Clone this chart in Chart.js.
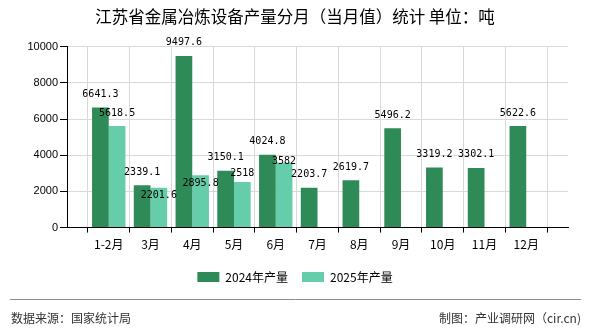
<!DOCTYPE html>
<html>
<head>
<meta charset="utf-8">
<script src="https://cdn.jsdelivr.net/npm/chart.js@4.4.1/dist/chart.umd.min.js"></script>
<style>
  html, body { margin: 0; padding: 0; background: #fff; }
  #wrap { position: relative; width: 590px; height: 330px; }
</style>
</head>
<body>
<div id="wrap"><canvas id="chart" width="590" height="330"></canvas></div>
<script>
// values
const months = ['1-2月', '3月', '4月', '5月', '6月', '7月', '8月', '9月', '10月', '11月', '12月'];
const output2024 = [6641.3, 2339.1, 9497.6, 3150.1, 4024.8, 2203.7, 2619.7, 5496.2, 3319.2, 3302.1, 5622.6];
const output2025 = [5618.5, 2201.6, 2895.8, 2518, 3582, null, null, null, null, null, null];
const yTicks = [0, 2000, 4000, 6000, 8000, 10000];

// label nudges (px) for 2025 labels, mimicking the overlap shifting in the source
const lightLabelDy = [0, 21, 21, 4, 12, 0, 0, 0, 0, 0, 0];

// an empty slot on both ends, so the category axis has a full gap at each side
const labels = [''].concat(months, ['']);
const pad = arr => [null].concat(arr, [null]);

const CJK = '"Noto Sans CJK SC", "Noto Sans", sans-serif';

const valueLabels = {
    id: 'valueLabels',
    afterDatasetsDraw(chart) {
        const ctx = chart.ctx;
        ctx.save();
        ctx.font = '10px "DejaVu Sans Mono", monospace';
        ctx.fillStyle = '#000';
        ctx.textAlign = 'center';
        ctx.textBaseline = 'middle';
        chart.data.datasets.forEach((ds, di) => {
            const meta = chart.getDatasetMeta(di);
            meta.data.forEach((bar, i) => {
                const v = ds.data[i];
                if (v === null || v === undefined) return;
                let dy = -13;
                if (di === 1) dy += lightLabelDy[i - 1] || 0;
                ctx.fillText(String(v), bar.x, bar.y + dy);
            });
        });
        ctx.restore();
    }
};

const footer = {
    id: 'footer',
    afterDraw(chart) {
        const ctx = chart.ctx;
        ctx.save();
        ctx.strokeStyle = '#8c8c8c';
        ctx.lineWidth = 1;
        ctx.beginPath();
        ctx.moveTo(10, 299.5);
        ctx.lineTo(581, 299.5);
        ctx.stroke();
        ctx.font = '12px ' + CJK;
        ctx.fillStyle = '#333';
        ctx.textBaseline = 'middle';
        ctx.textAlign = 'left';
        ctx.fillText('数据来源：国家统计局', 11, 318);
        ctx.textAlign = 'right';
        ctx.fillText('制图：产业调研网（cir.cn)', 581, 318);
        ctx.restore();
    }
};

new Chart(document.getElementById('chart'), {
    type: 'bar',
    data: {
        labels: labels,
        datasets: [{
            label: '2024年产量',
            data: pad(output2024),
            backgroundColor: '#2e8b57',
            categoryPercentage: 0.8,
            barPercentage: 1.0
        }, {
            label: '2025年产量',
            data: pad(output2025),
            backgroundColor: '#66cdaa',
            categoryPercentage: 0.8,
            barPercentage: 1.0
        }]
    },
    options: {
        responsive: false,
        animation: false,
        layout: {
            // left padding keeps the title centred like the source
            padding: { left: 22, right: 22, top: 0, bottom: 37 }
        },
        plugins: {
            title: {
                display: true,
                text: '江苏省金属冶炼设备产量分月（当月值）统计 单位：吨',
                color: '#000',
                font: { family: CJK, size: 16.5, weight: 'normal' },
                padding: { top: 7, bottom: 20 }
            },
            legend: {
                position: 'bottom',
                labels: {
                    boxWidth: 22,
                    boxHeight: 10,
                    color: '#000',
                    font: { family: CJK, size: 12 },
                    padding: 14
                }
            },
            tooltip: { enabled: false }
        },
        scales: {
            x: {
                offset: false,
                grid: { color: '#d9d9d9', tickColor: '#000', tickLength: 5 },
                border: { color: '#000', width: 1 },
                ticks: {
                    autoSkip: false,
                    maxRotation: 0,
                    color: '#000',
                    font: { family: CJK, size: 12 },
                    padding: 5
                }
            },
            y: {
                min: 0,
                max: 10000,
                afterFit: s => { s.width = 45; },
                afterBuildTicks: s => { s.ticks = yTicks.map(v => ({ value: v })); },
                grid: { color: '#d9d9d9', tickColor: '#000', tickLength: 7 },
                border: { color: '#000', width: 1 },
                ticks: {
                    color: '#000',
                    font: { family: '"Liberation Sans", Arial, sans-serif', size: 11 },
                    padding: 2,
                    callback: v => String(v)
                }
            }
        }
    },
    plugins: [valueLabels, footer]
});
</script>
</body>
</html>
